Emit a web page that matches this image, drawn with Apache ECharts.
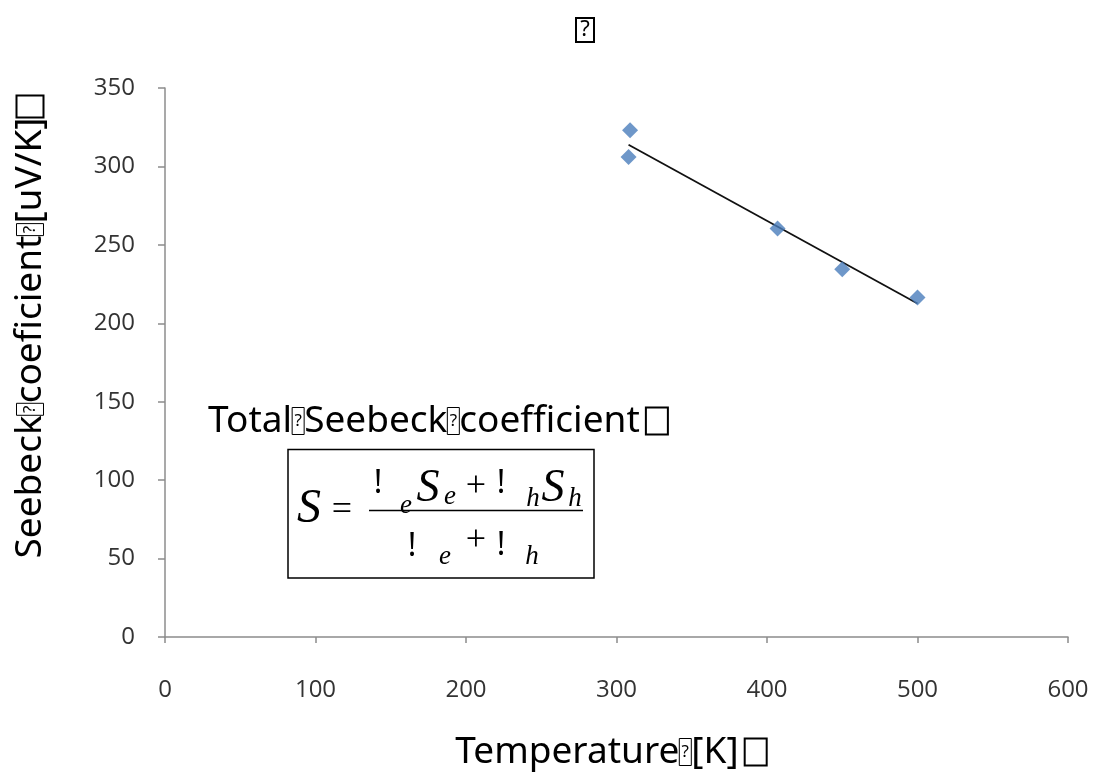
<!DOCTYPE html>
<html>
<head>
<meta charset="utf-8">
<script src="https://cdn.jsdelivr.net/npm/echarts@6/dist/echarts.min.js"></script>
<style>html,body{margin:0;padding:0;background:#fff}#c{width:1094px;height:778px}</style>
</head>
<body>
<div id="c"></div>
<script>
// Data
var temperature = [309, 308, 407, 450, 500];
var seebeck = [323, 306, 260.5, 234.5, 216.5];
var xTicks = [0, 100, 200, 300, 400, 500, 600];
var yTicks = [0, 50, 100, 150, 200, 250, 300, 350];
var chartTitle = '?';
// text pieces; '?' = missing-glyph box, '' = empty missing-glyph box
var xName = ['Temperature', '?', '[K]\u2009', ''];
var yName = ['Seebeck', '?', 'coeficient', '?', '[uV/K]', ''];
var boxTitle = ['Total', '?', 'Seebeck', '?', 'coefficient\u2009', ''];

// linear trend (least squares) from the data, drawn between min and max temperature
function trend() {
  var n = temperature.length, mx = 0, my = 0;
  for (var i = 0; i < n; i++) { mx += temperature[i]; my += seebeck[i]; }
  mx /= n; my /= n;
  var sxy = 0, sxx = 0;
  for (i = 0; i < n; i++) { sxy += (temperature[i]-mx)*(seebeck[i]-my); sxx += (temperature[i]-mx)*(temperature[i]-mx); }
  var b = sxy / sxx, a = my - b * mx;
  var x0 = Math.min.apply(null, temperature), x1 = Math.max.apply(null, temperature);
  return [[x0, a + b*x0], [x1, a + b*x1]];
}

function tofuText(parts) {
  return parts.map(function (p) {
    if (p === '?') return '{q|?}';
    if (p === '') return '{sq|\u00a0}';
    return '{n|' + p + '}';
  }).join('');
}
var bigFont = '"Noto Sans", "Open Sans", sans-serif';
function richBig(size) {
  return {
    n: { fontSize: size, fontFamily: bigFont, color: '#000', verticalAlign: 'middle', lineHeight: 44 },
    q: { fontSize: 17, fontFamily: bigFont, color: '#000', width: 12, height: 27, lineHeight: 27,
         borderColor: '#000', borderWidth: 1, verticalAlign: 'middle' },
    sq: { fontSize: 14, width: 22, height: 27, borderColor: '#000', borderWidth: 2, lineHeight: 27, verticalAlign: 'middle' }
  };
}

var chart = echarts.init(document.getElementById('c'));
var serif = '"Liberation Serif", "DejaVu Serif", serif';
function T(x, y, txt, size, italic, extra) {
  var st = { text: txt, fontSize: size, fontFamily: serif, fontStyle: italic ? 'italic' : 'normal', fill: '#000', align: 'center', verticalAlign: 'middle' };
  if (extra) for (var k in extra) st[k] = extra[k];
  return { type: 'text', x: x, y: y, style: st, z: 10 };
}
var bang = { fontFamily: bigFont };
var tickFont = '"Open Sans", "Noto Sans", sans-serif';
chart.setOption({
  animation: false,
  backgroundColor: '#fff',
  grid: { left: 165, right: 26, top: 88, bottom: 141 },
  xAxis: {
    type: 'value', min: xTicks[0], max: xTicks[xTicks.length-1], interval: 100,
    axisLine: { show: true, onZero: false, lineStyle: { color: '#8c8c8c', width: 1.5 } },
    axisTick: { show: true, length: 6, lineStyle: { color: '#8c8c8c', width: 1.5 } },
    axisLabel: { margin: 41, fontSize: 24, color: '#333', fontFamily: tickFont },
    splitLine: { show: false }
  },
  yAxis: {
    type: 'value', min: yTicks[0], max: yTicks[yTicks.length-1], interval: 50,
    axisLine: { show: true, onZero: false, lineStyle: { color: '#8c8c8c', width: 1.5 } },
    axisTick: { show: true, length: 7, lineStyle: { color: '#8c8c8c', width: 1.5 } },
    axisLabel: { margin: 30, fontSize: 24, color: '#333', fontFamily: tickFont },
    splitLine: { show: false }
  },
  series: [
    {
      type: 'line', data: trend(), symbol: 'none', z: 2,
      lineStyle: { color: '#111', width: 1.8 }
    },
    {
      type: 'scatter', data: temperature.map(function (t, i) { return [t, seebeck[i]]; }),
      symbol: 'diamond', symbolSize: [16, 16], z: 3,
      itemStyle: { color: '#4a7dbb' }
    }
  ],
  graphic: [
    { type: 'text', x: 585, y: 30, style: { text: '{b|' + chartTitle + '}', align: 'center', verticalAlign: 'middle',
      rich: { b: { fontSize: 22, fontFamily: bigFont, color: '#000', borderColor: '#000', borderWidth: 2, width: 18, height: 24, lineHeight: 24 } } } },
    { type: 'text', x: 611, y: 752, style: { text: tofuText(xName), align: 'center', verticalAlign: 'middle', rich: richBig(37) } },
    { type: 'text', x: 30, y: 327, rotation: Math.PI/2, style: { text: tofuText(yName), align: 'center', verticalAlign: 'middle', rich: richBig(37) } },
    { type: 'text', x: 438, y: 421, style: { text: tofuText(boxTitle), align: 'center', verticalAlign: 'middle', rich: richBig(37) }, z: 10 },
    { type: 'rect', shape: { x: 288, y: 449.5, width: 306, height: 128.5 }, style: { fill: '#fff', stroke: '#000', lineWidth: 1.5 }, z: 9 },
    T(309, 509, 'S', 48, true),
    T(342, 511, '=', 36, false),
    { type: 'line', shape: { x1: 369, y1: 510.5, x2: 583, y2: 510.5 }, style: { stroke: '#000', lineWidth: 1.5 }, z: 10 },
    // numerator
    T(378, 484, '!', 32, false, bang),
    T(406, 506, 'e', 27, true),
    T(428, 489, 'S', 46, true),
    T(450, 497, 'e', 27, true),
    T(476, 487, '+', 36, false),
    T(501, 484, '!', 32, false, bang),
    T(533, 499, 'h', 27, true),
    T(553, 489, 'S', 46, true),
    T(575, 499, 'h', 27, true),
    // denominator
    T(412, 547, '!', 32, false, bang),
    T(445, 557, 'e', 27, true),
    T(476, 541, '+', 36, false),
    T(501, 546, '!', 32, false, bang),
    T(532, 557, 'h', 27, true)
  ]
});
</script>
</body>
</html>
